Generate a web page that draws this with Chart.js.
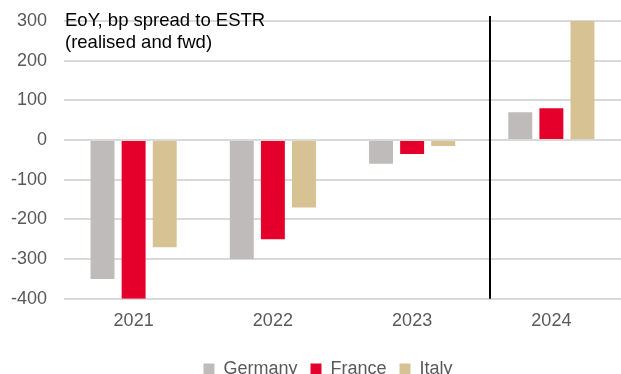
<!DOCTYPE html>
<html>
<head>
<meta charset="utf-8">
<script src="https://cdn.jsdelivr.net/npm/chart.js@4/dist/chart.umd.min.js"></script>
<style>
  html, body { margin: 0; padding: 0; background: #fff; overflow: hidden; }
  #wrap { width: 621px; height: 374px; overflow: hidden; }
</style>
</head>
<body>
<div id="wrap"><canvas id="spreadChart" width="621" height="388"></canvas></div>
<script>
const years = ['2021', '2022', '2023', '2024'];
const germany = [-350, -300, -60, 70];
const france = [-400, -250, -35, 80];
const italy = [-270, -170, -15, 300];
const yMin = -400;
const yMax = 300;
const yStep = 100;
const titleLines = ['EoY, bp spread to ESTR', '(realised and fwd)'];
// realised / forward split, in category units (just right of the 2023|2024 boundary)
const dividerAt = 2.56;

const FONT = '"Liberation Sans", Arial, sans-serif';

// header text in the top-left corner of the plot
const cornerTitle = {
    id: 'cornerTitle',
    afterDraw(chart) {
        const { ctx, chartArea } = chart;
        ctx.save();
        ctx.fillStyle = '#000';
        ctx.font = '18.5px ' + FONT;
        ctx.textAlign = 'left';
        ctx.textBaseline = 'alphabetic';
        titleLines.forEach((line, i) => {
            ctx.fillText(line, chartArea.left + 1, chartArea.top + 5 + i * 21.5);
        });
        ctx.restore();
    }
};

// black vertical line between realised and forward years
const divider = {
    id: 'divider',
    afterDatasetsDraw(chart) {
        const { ctx, chartArea, scales } = chart;
        const x = Math.round(scales.x.getPixelForValue(dividerAt));
        ctx.save();
        ctx.strokeStyle = '#000';
        ctx.lineWidth = 2;
        ctx.beginPath();
        ctx.moveTo(x, chartArea.top - 5);
        ctx.lineTo(x, chartArea.bottom);
        ctx.stroke();
        ctx.restore();
    }
};

// nudge the legend right so it sits under the plot rather than the canvas
const legendShift = {
    id: 'legendShift',
    afterLayout(chart) {
        chart.legend.left += 12;
        chart.legend.right += 12;
    }
};

new Chart(document.getElementById('spreadChart'), {
    type: 'bar',
    data: {
        labels: years,
        datasets: [
            { label: 'Germany', data: germany, backgroundColor: '#bfbbba' },
            { label: 'France', data: france, backgroundColor: '#e4002b' },
            { label: 'Italy', data: italy, backgroundColor: '#d7c294' }
        ]
    },
    options: {
        responsive: false,
        animation: false,
        categoryPercentage: 0.67,
        barPercentage: 0.77,
        layout: { padding: { top: 21, left: 11, right: 0, bottom: 0 } },
        scales: {
            x: {
                grid: { display: false, drawTicks: false },
                border: { display: false },
                ticks: { color: '#595959', font: { family: FONT, size: 18 }, padding: 11 },
                afterFit: s => {
                    s.height += 4.6;
                    s.paddingLeft = 0;
                    s.paddingRight = 0;
                }
            },
            y: {
                min: yMin,
                max: yMax,
                grid: { color: '#d9d9d9', lineWidth: 2, drawTicks: false },
                border: { display: false },
                ticks: { stepSize: yStep, color: '#595959', font: { family: FONT, size: 18 }, padding: 17 },
                afterFit: s => {
                    s.width = 53;
                    s.paddingTop = 0;
                    s.paddingBottom = 0;
                }
            }
        },
        plugins: {
            legend: {
                position: 'bottom',
                labels: {
                    boxWidth: 11,
                    boxHeight: 11,
                    padding: 13,
                    color: '#595959',
                    font: { family: FONT, size: 18 }
                }
            },
            tooltip: { enabled: false }
        }
    },
    plugins: [cornerTitle, divider, legendShift]
});
</script>
</body>
</html>
